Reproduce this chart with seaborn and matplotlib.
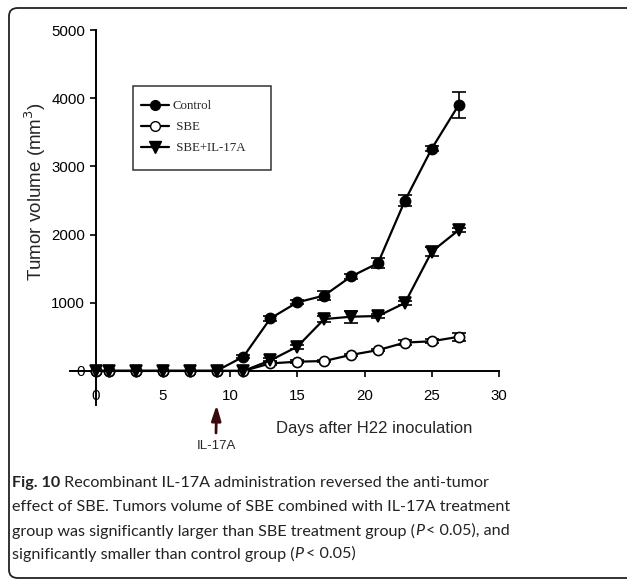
import numpy as np
import pandas as pd
import matplotlib
matplotlib.use("Agg")
import matplotlib.pyplot as plt
import seaborn as sns
from matplotlib.patches import FancyBboxPatch, Rectangle
from matplotlib.lines import Line2D

days = [0, 1, 3, 5, 7, 9, 11, 13, 15, 17, 19, 21, 23, 25, 27]
control = [0, 0, 0, 0, 0, 0, 210, 770, 1005, 1105, 1385, 1580, 2495, 3260, 3900]
control_err = [0, 0, 0, 0, 0, 0, 20, 40, 30, 60, 40, 70, 80, 40, 190]
sbe = [0, 0, 0, 0, 0, 0, 0, 110, 135, 145, 235, 305, 415, 435, 500]
sbe_err = [0, 0, 0, 0, 0, 0, 0, 30, 20, 20, 20, 20, 40, 30, 60]
sbe_il17 = [0, 0, 0, 0, 0, 0, 0, 155, 355, 760, 795, 805, 995, 1750, 2065]
sbe_il17_err = [0, 0, 0, 0, 0, 0, 0, 30, 30, 40, 90, 30, 30, 60, 30]
series_names = ["Control", "SBE", "SBE+IL-17A"]
x_ticks = [0, 5, 10, 15, 20, 25, 30]
y_ticks = [0, 1000, 2000, 3000, 4000, 5000]

sns.set_style("white")
plt.rcParams["font.family"] = ["Liberation Sans", "DejaVu Sans"]

W, H = 627, 580
fig = plt.figure(figsize=(W / 100, H / 100), dpi=100)

def fx(px):
    return px / W

def fy(py):
    return 1 - py / H

# axes placement: x from -1.9 (px 70) to 30 (px 499); y from -500 (px 405) to 5000 (px 30)
ax = fig.add_axes([fx(70), fy(405), fx(499) - fx(70), fy(30) - fy(405)])
ax.set_xlim(-1.9, 30)
ax.set_ylim(-500, 5000)

styles = [
    (series_names[0], control, control_err, "o", "black"),
    (series_names[1], sbe, sbe_err, "o", "white"),
    (series_names[2], sbe_il17, sbe_il17_err, "v", "black"),
]
for name, vals, errs, mk, fc in styles:
    df = pd.DataFrame({"day": days, "vol": vals})
    ax.errorbar(days, vals, yerr=errs, fmt="none", ecolor="black",
                elinewidth=1.2, capsize=5, capthick=1.2, zorder=2)
    sns.lineplot(data=df, x="day", y="vol", ax=ax, color="black", lw=1.6,
                 marker=mk, markersize=7.3 if mk == "o" else 8.3,
                 markerfacecolor=fc, markeredgecolor="black",
                 markeredgewidth=1.2, zorder=3, legend=False)

ax.spines["top"].set_visible(False)
ax.spines["right"].set_visible(False)
ax.spines["left"].set_position(("data", 0))
ax.spines["bottom"].set_position(("data", 0))
for s in ["left", "bottom"]:
    ax.spines[s].set_linewidth(1.4)
    ax.spines[s].set_color("black")
ax.set_xticks(x_ticks)
ax.set_yticks(y_ticks)
ax.tick_params(axis="both", direction="out", length=4, width=1.2,
               labelsize=10.8, colors="black")
ax.tick_params(axis="x", pad=9, bottom=True)
ax.tick_params(axis="y", left=True)
ax.set_xlabel("")
ax.set_ylabel("")

# legend (frame drawn separately to match the reference box)
handles = [
    Line2D([], [], color="black", lw=1.6, marker="o", markersize=7,
           markerfacecolor="black", markeredgecolor="black"),
    Line2D([], [], color="black", lw=1.6, marker="o", markersize=7,
           markerfacecolor="white", markeredgecolor="black"),
    Line2D([], [], color="black", lw=1.6, marker="v", markersize=8,
           markerfacecolor="black", markeredgecolor="black"),
]
leg_labels = ["Control", " SBE", " SBE+IL-17A"]
leg = ax.legend(handles, leg_labels, loc="upper left",
                bbox_to_anchor=(fx(141), fy(100)), bbox_transform=fig.transFigure,
                borderaxespad=0, frameon=False,
                prop={"family": "Liberation Serif", "size": 9.3},
                handlelength=2.2, handletextpad=0.25, labelspacing=0.7,
                borderpad=0)
box = Rectangle((fx(133), fy(170)), fx(271) - fx(133), fy(86) - fy(170),
                transform=fig.transFigure, fill=False, edgecolor="#333333",
                lw=1.1, zorder=5)
fig.patches.append(box)

# axis labels
fig.text(fx(35), fy(192), "Tumor volume (mm$^3$)", rotation=90,
         ha="center", va="center", fontsize=13.5)
fig.text(fx(374), fy(429), "Days after H22 inoculation", ha="center",
         va="center", fontsize=12)

# IL-17A arrow
ax.annotate("", xy=(9, -500), xycoords="data",
            xytext=(fx(216), fy(433)), textcoords="figure fraction",
            arrowprops=dict(arrowstyle="-|>,head_length=0.9,head_width=0.28",
                            color="#3a0a0c", lw=2.0, shrinkA=0, shrinkB=0),
            annotation_clip=False)
fig.text(fx(216), fy(446), "IL-17A", ha="center", va="center", fontsize=9.5)

# caption
cap_font = "Lato"
cap_size = 11.65
renderer = fig.canvas.get_renderer()

def run_line(x0, y0, runs):
    x = x0
    for txt, weight, style in runs:
        t = fig.text(x, y0, txt, ha="left", va="center", fontsize=cap_size,
                     family=cap_font, weight=weight, style=style, color="#222222")
        bb = t.get_window_extent(renderer=renderer)
        x += bb.width / W

lines = [
    [("Fig. 10", "bold", "normal"),
     (" Recombinant IL-17A administration reversed the anti-tumor", "normal", "normal")],
    [("effect of SBE. Tumors volume of SBE combined with IL-17A treatment", "normal", "normal")],
    [("group was significantly larger than SBE treatment group (", "normal", "normal"),
     ("P", "normal", "italic"), ("\u2009< 0.05), and", "normal", "normal")],
    [("significantly smaller than control group (", "normal", "normal"),
     ("P", "normal", "italic"), ("\u2009< 0.05)", "normal", "normal")],
]
ys = [483, 507, 531, 554]
for runs, yy in zip(lines, ys):
    run_line(fx(12), fy(yy), runs)

# rounded outer frame
frame = FancyBboxPatch((fx(9), fy(578)), fx(640) - fx(9), fy(8) - fy(578),
                       boxstyle="round,pad=0,rounding_size=0.014",
                       transform=fig.transFigure, fill=False,
                       edgecolor="#222222", lw=1.3, clip_on=False)
fig.patches.append(frame)

fig.savefig("out.png", dpi=100)
